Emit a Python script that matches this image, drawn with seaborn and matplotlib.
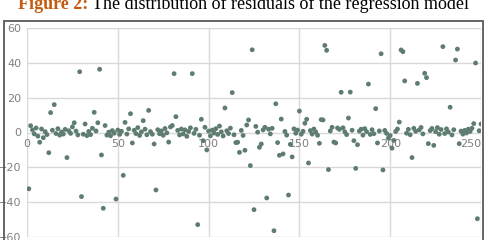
import numpy as np
import pandas as pd
import seaborn as sns
import matplotlib.pyplot as plt
from matplotlib.patches import Rectangle

# residuals of the regression model, one per observation (x = 1..250)
residuals = [
    -32.3, 3.9, 1.5, -0.8, 2.6, -2.1, -5.6, 2.0, -3.0, 0.5,
    -1.2, -11.6, 11.4, 1.3, 16.0, -0.6, 2.2, -1.5, 0.3, -0.9,
    1.8, -14.4, 1.0, -0.5, 3.2, 5.6, 0.8, -1.4, 34.9, -36.8,
    -1.0, 4.9, -1.8, 0.6, -1.2, 2.4, 11.6, 0.9, 5.6, 36.3,
    -12.9, -43.5, 4.0, -1.5, 0.2, -1.9, 1.1, -0.4, -38.2, 1.4,
    -1.1, 0.7, -24.6, 5.8, -0.9, 2.1, 10.8, -6.0, 1.3, -0.6,
    2.8, -1.7, 0.4, 6.8, 1.9, -1.3, 12.7, 0.5, -1.0, -6.6,
    -33.0, 1.6, -0.7, 0.9, -1.6, 2.3, -0.2, -5.5, 3.2, 4.0,
    33.8, 9.1, 1.2, -1.4, 2.0, -0.8, 1.5, -2.2, 0.6, 2.7,
    33.8, -0.5, 1.8, -52.9, -1.6, 7.6, -4.7, 3.0, -10.0, 0.8,
    -1.9, 1.4, -0.3, 2.2, -1.1, 3.7, 0.4, -2.0, 14.1, 1.0,
    -0.6, 2.5, 22.9, -1.3, -5.8, -5.6, -11.4, 1.2, -1.7, -10.2,
    4.3, 7.2, -19.0, 47.5, -44.3, 3.5, 0.2, -8.5, -6.6, 1.5,
    3.0, -37.6, 1.9, -0.8, 2.4, -56.4, 16.5, -5.8, -13.1, 7.7,
    -12.3, 0.6, -1.5, -35.9, -6.8, -14.0, 2.1, -0.4, 1.4, 12.3,
    -1.0, 0.7, 5.3, 7.6, -17.5, 1.1, -0.9, 2.0, 0.3, -1.6,
    -6.2, 7.4, 7.2, 50.0, 47.2, -21.3, 0.9, 3.0, -5.5, -6.0,
    2.6, 1.8, 23.1, 2.7, 0.4, -1.2, 8.3, 23.2, 1.3, -4.7,
    -20.6, -7.0, 0.8, 1.9, -1.5, 2.2, 0.5, 27.8, -1.1, 1.6,
    -0.7, 13.7, -6.0, 0.9, 45.2, -21.5, 1.2, -0.5, -3.2, -1.8,
    -9.0, -4.5, 0.6, 2.0, 6.0, 47.4, 46.4, 29.6, -0.4, 1.8,
    -1.3, -14.4, 2.4, 0.7, 28.2, 1.5, 2.9, -0.8, 34.0, 31.5,
    -6.4, 1.1, 2.3, -7.4, 0.5, 2.8, -1.0, 1.7, 49.3, -0.6,
    2.1, 0.3, 14.5, -1.4, 1.6, 41.6, 47.9, -6.4, 0.8, -0.9,
    1.2, -0.3, 1.9, 0.6, 2.4, 5.1, 39.9, -49.5, 1.0, 4.9,
]
obs = list(range(1, len(residuals) + 1))
xticks = [0, 50, 100, 150, 200, 250]
yticks = [-60, -40, -20, 0, 20, 40, 60]

df = pd.DataFrame({"obs": obs, "resid": residuals})

sns.set_style("white")
plt.rcParams["font.family"] = ["DejaVu Sans"]

fig = plt.figure(figsize=(4.9, 2.4), dpi=100)
ax = fig.add_axes([27 / 490, 3 / 240, 454 / 490, 209 / 240])

sns.scatterplot(data=df, x="obs", y="resid", ax=ax, s=12, color="#5e7d70",
                edgecolor="none", zorder=3)

ax.set_xlim(0, 250)
ax.set_ylim(-60, 60)
ax.set_xticks(xticks)
ax.set_yticks(yticks)
ax.grid(True, color="#d9d9d9", linewidth=1)
ax.set_xlabel("")
ax.set_ylabel("")
for s in ax.spines.values():
    s.set_visible(False)
# x tick labels sit on the zero line
ax.spines["bottom"].set_position(("data", 0))
ax.tick_params(axis="both", length=0, labelsize=8, labelcolor="#808080")
ax.tick_params(axis="x", pad=5)
ax.tick_params(axis="y", pad=4)
labs = ax.get_xticklabels()
labs[-1].set_horizontalalignment("right")

# outer frame
fig.patches.append(Rectangle((4 / 490, -0.1), 479 / 490, 1.1 - 21 / 240,
                             transform=fig.transFigure, fill=False,
                             edgecolor="#595959", linewidth=1.3))

# title in two parts
t1 = fig.text(18 / 490, 1 - 9 / 240, "Figure 2:", fontsize=13,
              fontweight="bold", color="#c55a11", family="Liberation Serif",
              va="baseline")
fig.canvas.draw()
bb = t1.get_window_extent()
fig.text((bb.x1 + 4) / 490, 1 - 9 / 240,
         "The distribution of residuals of the regression model",
         fontsize=13, color="black", family="Liberation Serif", va="baseline")

fig.savefig("out.png", dpi=100)
